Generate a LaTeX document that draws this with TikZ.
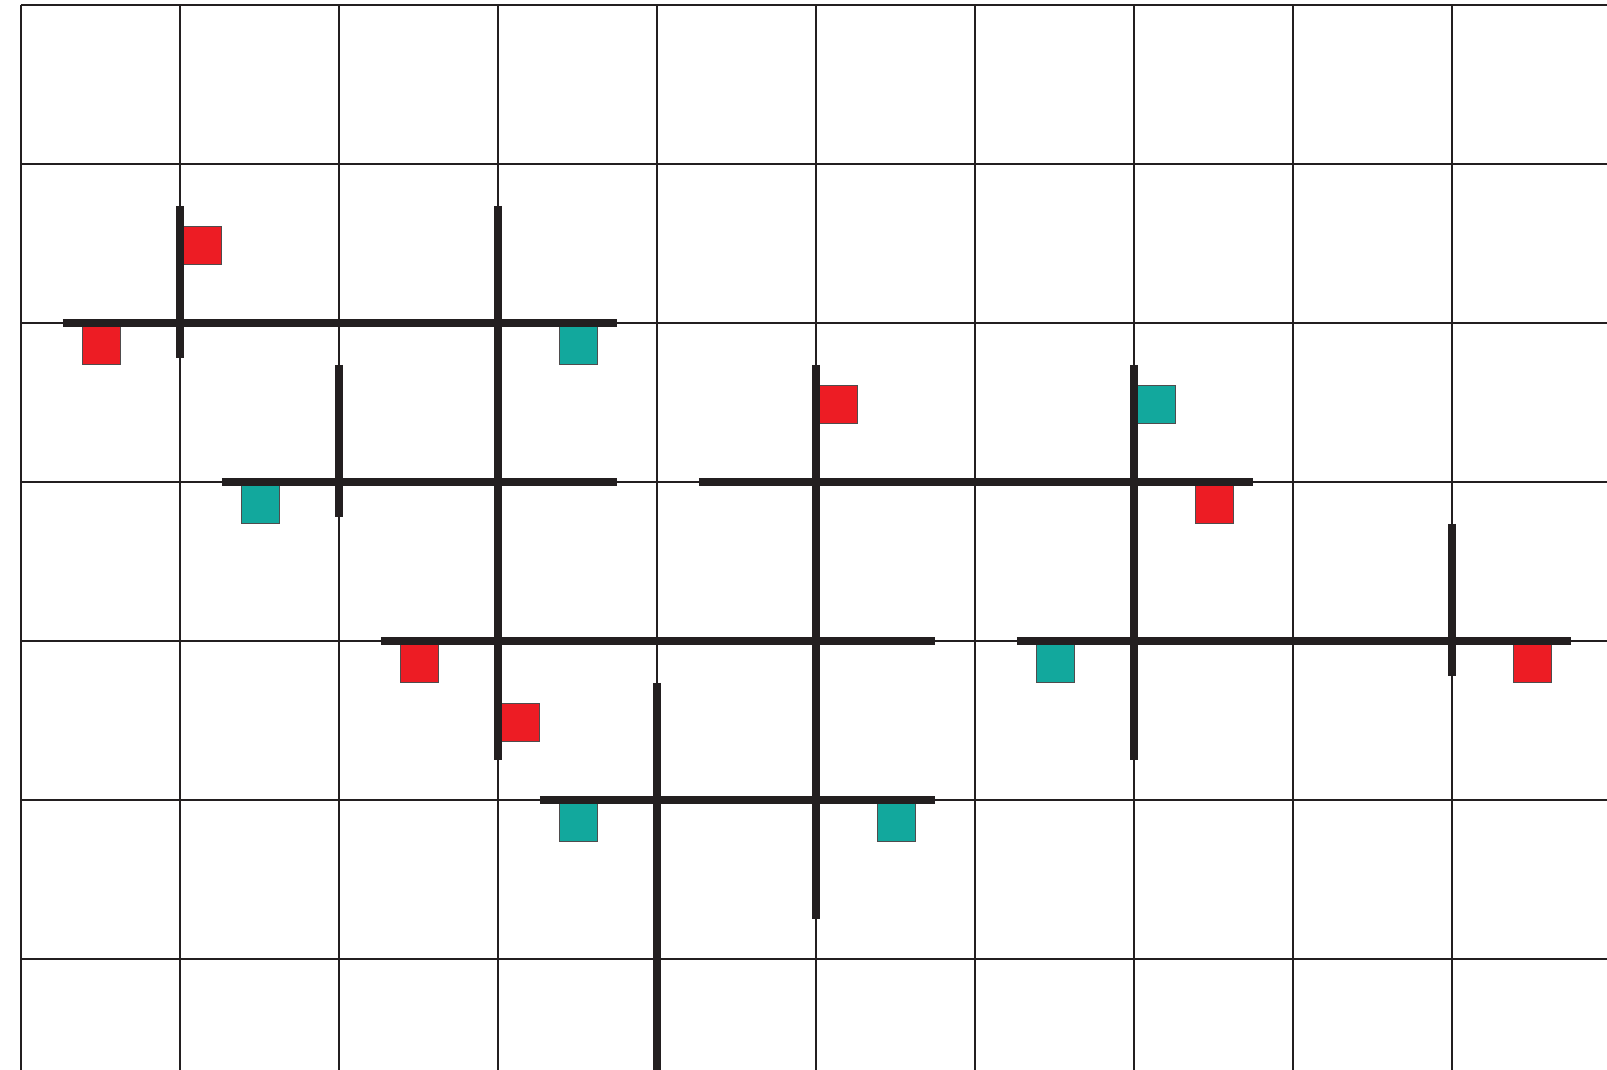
\documentclass[tikz,border=0pt]{standalone}
\usepackage{xcolor}
\usepackage{tikz}
\usetikzlibrary{positioning}

\definecolor{ink}{HTML}{231F20}
\definecolor{flagred}{HTML}{ED1C24}
\definecolor{flagteal}{HTML}{12A89D}

\begin{document}
\begin{tikzpicture}[
        x=3cm, y=3cm,
        gridline/.style={draw=ink, line width=0.7pt},
        wall/.style={draw=ink, line width=3.8pt},
        redbox/.style={fill=flagred, draw=ink!80, line width=0.5pt},
        tealbox/.style={fill=flagteal, draw=ink!80, line width=0.5pt}
    ]
    \useasboundingbox (-0.132,0.0314) rectangle (9.975,-6.698);

    % Grid
    \draw[gridline, step=1] (0,-6.698) grid (9.975,0);

    % Red squares
    \draw[redbox] (1.02,-1.39) rectangle ++(0.24,-0.24);
    \draw[redbox] (0.385,-2.02) rectangle ++(0.24,-0.24);
    \draw[redbox] (5.02,-2.39) rectangle ++(0.24,-0.24);
    \draw[redbox] (7.385,-3.02) rectangle ++(0.24,-0.24);
    \draw[redbox] (2.385,-4.02) rectangle ++(0.24,-0.24);
    \draw[redbox] (3.02,-4.39) rectangle ++(0.24,-0.24);
    \draw[redbox] (9.385,-4.02) rectangle ++(0.24,-0.24);

    % Teal squares
    \draw[tealbox] (3.385,-2.02) rectangle ++(0.24,-0.24);
    \draw[tealbox] (1.385,-3.02) rectangle ++(0.24,-0.24);
    \draw[tealbox] (7.02,-2.39) rectangle ++(0.24,-0.24);
    \draw[tealbox] (6.385,-4.02) rectangle ++(0.24,-0.24);
    \draw[tealbox] (3.385,-5.02) rectangle ++(0.24,-0.24);
    \draw[tealbox] (5.385,-5.02) rectangle ++(0.24,-0.24);

    % Horizontal walls
    \draw[wall] (0.264,-2) -- (3.746,-2);
    \draw[wall] (1.264,-3) -- (3.746,-3);
    \draw[wall] (4.264,-3) -- (7.746,-3);
    \draw[wall] (2.264,-4) -- (5.746,-4);
    \draw[wall] (6.264,-4) -- (9.746,-4);
    \draw[wall] (3.264,-5) -- (5.746,-5);

    % Vertical walls
    \draw[wall] (1,-1.264) -- (1,-2.218);
    \draw[wall] (2,-2.264) -- (2,-3.218);
    \draw[wall] (9,-3.264) -- (9,-4.218);
    \draw[wall] (3,-1.264) -- (3,-4.746);
    \draw[wall] (5,-2.264) -- (5,-5.746);
    \draw[wall] (7,-2.264) -- (7,-4.746);
    \draw[wall] (4,-4.264) -- (4,-6.698);

\end{tikzpicture}
\end{document}
